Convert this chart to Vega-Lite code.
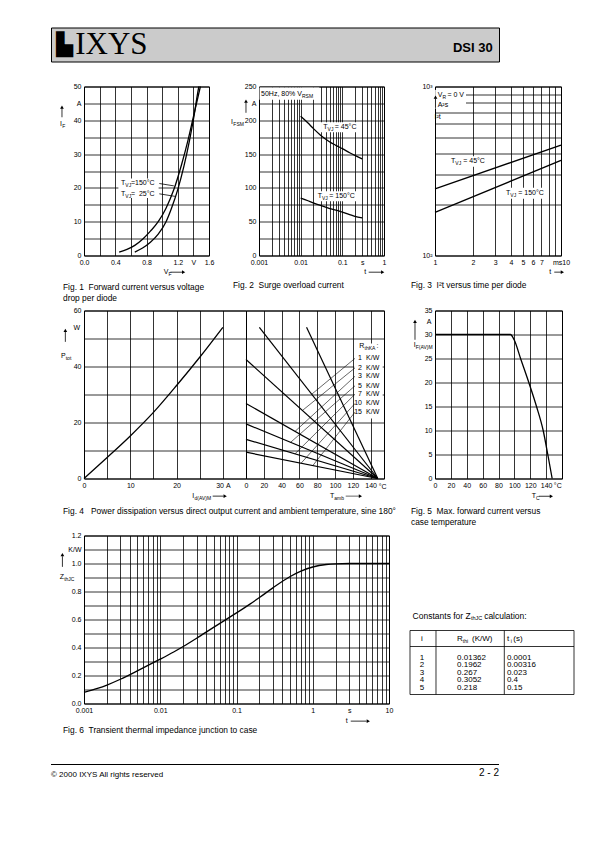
{
"$schema":"https://vega.github.io/schema/vega-lite/v6.json",
"padding":{"left":50,"top":26.5,"right":0,"bottom":0},
"spacing":0,
"config":{
 "view":{"stroke":null},
 "font":"Liberation Sans",
 "axis":{"grid":true,"gridColor":"black","gridOpacity":1,"gridWidth":0.8,"domain":false,"ticks":false,"labelFont":"Liberation Sans","labelFontSize":7,"labelColor":"black","labelPadding":3,"labelOverlap":false,"labelFlush":false,"labelBound":false},
 "title":{"font":"Liberation Sans","fontSize":8.4,"fontWeight":"normal","color":"black","anchor":"start","orient":"bottom","frame":"group","lineHeight":11,"baseline":"top"},
 "text":{"font":"Liberation Sans","color":"black"},
 "line":{"color":"black","strokeWidth":1.3},
 "rule":{"color":"black","strokeWidth":0.8},
 "point":{"color":"black","filled":true,"opacity":1,"size":14}
},
"vconcat":[
{"width":448,"height":34,"view":{"fill":"#cbcbcb","stroke":"black","strokeWidth":1},"data":{"values":[{}]},
 "layer":[
  {"mark":{"type":"text","text":"▙","font":"DejaVu Sans","fontSize":22,"align":"center","baseline":"middle"},"encoding":{"x":{"datum":0.03,"type":"quantitative","scale":{"domain":[0,1],"nice":false,"zero":false},"axis":null},"y":{"datum":0.5,"type":"quantitative","scale":{"domain":[0,1],"nice":false,"zero":false},"axis":null}}},
  {"mark":{"type":"text","text":"IXYS","font":"Liberation Serif","fontSize":31,"align":"left","baseline":"middle"},"encoding":{"x":{"datum":0.054,"type":"quantitative","scale":{"domain":[0,1],"nice":false,"zero":false},"axis":null},"y":{"datum":0.5,"type":"quantitative","scale":{"domain":[0,1],"nice":false,"zero":false},"axis":null}}},
  {"mark":{"type":"text","text":"DSI 30","fontSize":13,"fontWeight":"bold","align":"right","baseline":"middle"},"encoding":{"x":{"datum":0.986,"type":"quantitative","scale":{"domain":[0,1],"nice":false,"zero":false},"axis":null},"y":{"datum":0.41,"type":"quantitative","scale":{"domain":[0,1],"nice":false,"zero":false},"axis":null}}}
 ]},
{"width":1,"height":19,"data":{"values":[]},"mark":"point"},
{"spacing":0,"bounds":"flush","hconcat":[
{"width":33,"height":1,"data":{"values":[]},"mark":"point"},
{"width":125,"height":169,"view":{"stroke":"black","strokeWidth":1},
 "title":{"text":["Fig. 1\u00a0\u00a0Forward current versus voltage","\u00a0\u00a0\u00a0\u00a0\u00a0\u00a0\u00a0\u00a0\u00a0\u00a0\u00a0drop per diode"],"dx":-21,"offset":6},
 "data":{"values":[
  {"x":0.474,"y":21.5,"t":"T","k":"m"},{"x":0.529,"y":21.5,"t":"VJ","k":"s"},{"x":0.601,"y":21.5,"t":"=150°C","k":"m"},
  {"x":0.474,"y":18.25,"t":"T","k":"m"},{"x":0.529,"y":18.25,"t":"VJ","k":"s"},{"x":0.601,"y":18.25,"t":"=\u00a0\u00a025°C","k":"m"},
  {"x":-0.307,"y":38.8,"t":"I","k":"m"},{"x":-0.278,"y":38.8,"t":"F","k":"s"},
  {"x":1.02,"y":-4.94,"t":"V","k":"m"},{"x":1.083,"y":-4.94,"t":"F","k":"s"}]},
 "encoding":{
  "x":{"field":"x","type":"quantitative","scale":{"domain":[0,1.6],"nice":false,"zero":false},"axis":{"title":null,"values":[0,0.2,0.4,0.6,0.8,1,1.2,1.4,1.6],"labelExpr":"datum.value==1.4?'V':(round(datum.value*10)%4==0?format(datum.value,'.1f'):'')"}},
  "y":{"field":"y","type":"quantitative","scale":{"domain":[0,50],"nice":false,"zero":false},"axis":{"title":null,"values":[0,5,10,15,20,25,30,35,40,45,50],"labelExpr":"datum.value==45?'A':(datum.value%10==0?datum.label:'')"}}},
 "layer":[
  {"data":{"values":[{"x":0.44,"x2":0.955,"y":17.0,"y2":22.8}]},"mark":{"type":"rect","fill":"white"},"encoding":{"x2":{"field":"x2"},"y2":{"field":"y2"}}},
  {"data":{"values":[
   {"s":"150","x":0.45,"y":1},{"s":"150","x":0.55,"y":1.8},{"s":"150","x":0.65,"y":3.0},{"s":"150","x":0.75,"y":4.8},{"s":"150","x":0.85,"y":7.2},{"s":"150","x":0.95,"y":10},{"s":"150","x":1.05,"y":14},{"s":"150","x":1.15,"y":19.5},{"s":"150","x":1.25,"y":27},{"s":"150","x":1.33,"y":34},{"s":"150","x":1.4,"y":41},{"s":"150","x":1.45,"y":46},{"s":"150","x":1.49,"y":50},
   {"s":"25","x":0.65,"y":1},{"s":"25","x":0.75,"y":2.2},{"s":"25","x":0.85,"y":3.9},{"s":"25","x":0.95,"y":6.3},{"s":"25","x":1.05,"y":10},{"s":"25","x":1.12,"y":14},{"s":"25","x":1.2,"y":19.5},{"s":"25","x":1.28,"y":26.5},{"s":"25","x":1.35,"y":34},{"s":"25","x":1.41,"y":41.5},{"s":"25","x":1.44,"y":46},{"s":"25","x":1.47,"y":50}]},
   "mark":{"type":"line","interpolate":"monotone"},"encoding":{"detail":{"field":"s"}}},
  {"data":{"values":[{"x":0.964,"y":21.3,"x2":1.15,"y2":20.6},{"x":0.964,"y":18.25,"x2":1.165,"y2":17.5},{"x":-0.282,"y":40.9,"x2":-0.282,"y2":43.6},{"x":1.105,"y":-4.94,"x2":1.265,"y2":-4.94}]},"mark":"rule","encoding":{"x2":{"field":"x2"},"y2":{"field":"y2"}}},
  {"data":{"values":[{"x":-0.282,"y":43.9,"h":"up"},{"x":1.275,"y":-4.94,"h":"right"}]},"mark":"point","encoding":{"shape":{"field":"h","type":"nominal","scale":{"domain":["up","right"],"range":["triangle-up","triangle-right"]},"legend":null}}},
  {"transform":[{"filter":"datum.k=='m'"}],"mark":{"type":"text","align":"left","baseline":"middle","fontSize":7},"encoding":{"text":{"field":"t","type":"nominal"}}},
  {"transform":[{"filter":"datum.k=='s'"}],"mark":{"type":"text","align":"left","baseline":"middle","fontSize":5,"dy":2},"encoding":{"text":{"field":"t","type":"nominal"}}}
 ]},
{"width":50,"height":1,"data":{"values":[]},"mark":"point"},
{"width":125,"height":169,"view":{"stroke":"black","strokeWidth":1},
 "title":{"text":"Fig. 2\u00a0\u00a0Surge overload current","dx":-26,"offset":6},
 "data":{"values":[
  {"x":0.00112,"y":239.6,"t":"50Hz, 80% V","k":"m"},{"x":0.01076,"y":239.6,"t":"RSM","k":"s"},
  {"x":0.0349,"y":189.8,"t":"T","k":"m"},{"x":0.0443,"y":189.8,"t":"VJ","k":"s"},{"x":0.0659,"y":189.8,"t":"= 45°C","k":"m"},
  {"x":0.0256,"y":87.7,"t":"T","k":"m"},{"x":0.0325,"y":87.7,"t":"VJ","k":"s"},{"x":0.0484,"y":87.7,"t":"= 150°C","k":"m"},
  {"x":0.000213,"y":197.2,"t":"I","k":"m"},{"x":0.000242,"y":197.2,"t":"FSM","k":"s"},
  {"x":0.3365,"y":-24.7,"t":"t","k":"m"}]},
 "encoding":{
  "x":{"field":"x","type":"quantitative","scale":{"type":"log","domain":[0.001,1],"nice":false},"axis":{"title":null,"values":[0.001,0.002,0.003,0.004,0.005,0.006,0.007,0.008,0.009,0.01,0.02,0.03,0.04,0.05,0.06,0.07,0.08,0.09,0.1,0.2,0.3,0.4,0.5,0.6,0.7,0.8,0.9,1],"labelExpr":"datum.value==0.001?'0.001':datum.value==0.01?'0.01':datum.value==0.1?'0.1':datum.value==1?'1':datum.value==0.3?'s':''"}},
  "y":{"field":"y","type":"quantitative","scale":{"domain":[0,250],"nice":false,"zero":false},"axis":{"title":null,"values":[0,25,50,75,100,125,150,175,200,225,250],"labelExpr":"datum.value==225?'A':(datum.value%50==0?datum.label:'')"}}},
 "layer":[
  {"data":{"values":[{"x":0.00103,"x2":0.028,"y":230.3,"y2":248.5},{"x":0.0308,"x2":0.255,"y":182.4,"y2":197.2},{"x":0.0224,"x2":0.255,"y":80.3,"y2":95.1}]},"mark":{"type":"rect","fill":"white"},"encoding":{"x2":{"field":"x2"},"y2":{"field":"y2"}}},
  {"data":{"values":[
   {"s":"45","x":0.01,"y":206},{"s":"45","x":0.015,"y":196},{"s":"45","x":0.02,"y":188},{"s":"45","x":0.03,"y":178},{"s":"45","x":0.05,"y":168},{"s":"45","x":0.07,"y":163},{"s":"45","x":0.1,"y":158},{"s":"45","x":0.15,"y":152},{"s":"45","x":0.2,"y":148},{"s":"45","x":0.3,"y":143},
   {"s":"150","x":0.01,"y":85},{"s":"150","x":0.015,"y":81},{"s":"150","x":0.02,"y":78},{"s":"150","x":0.03,"y":74},{"s":"150","x":0.05,"y":69.5},{"s":"150","x":0.07,"y":67},{"s":"150","x":0.1,"y":64},{"s":"150","x":0.15,"y":60.5},{"s":"150","x":0.2,"y":58},{"s":"150","x":0.3,"y":55.5}]},
   "mark":{"type":"line","interpolate":"monotone"},"encoding":{"detail":{"field":"s"}}},
  {"data":{"values":[{"x":0.000487,"y":211.1,"x2":0.000487,"y2":226.5},{"x":0.4285,"y":-24.7,"x2":0.9,"y2":-24.7}]},"mark":"rule","encoding":{"x2":{"field":"x2"},"y2":{"field":"y2"}}},
  {"data":{"values":[{"x":0.000487,"y":228.3,"h":"up"},{"x":0.93,"y":-24.7,"h":"right"}]},"mark":"point","encoding":{"shape":{"field":"h","type":"nominal","scale":{"domain":["up","right"],"range":["triangle-up","triangle-right"]},"legend":null}}},
  {"transform":[{"filter":"datum.k=='m'"}],"mark":{"type":"text","align":"left","baseline":"middle","fontSize":7},"encoding":{"text":{"field":"t","type":"nominal"}}},
  {"transform":[{"filter":"datum.k=='s'"}],"mark":{"type":"text","align":"left","baseline":"middle","fontSize":5,"dy":2},"encoding":{"text":{"field":"t","type":"nominal"}}}
 ]},
{"width":51,"height":1,"data":{"values":[]},"mark":"point"},
{"width":126,"height":169,"view":{"stroke":"black","strokeWidth":1},
 "title":{"text":"Fig. 3\u00a0\u00a0I²t versus time per diode","dx":-24,"offset":6},
 "data":{"values":[
  {"x":1.05,"y":888,"t":"V","k":"m"},{"x":1.145,"y":888,"t":"R","k":"s"},{"x":1.256,"y":888,"t":"= 0 V","k":"m"},
  {"x":1.05,"y":782,"t":"A²s","k":"m"},
  {"x":0.99,"y":656,"t":"I²t","k":"m"},
  {"x":1.34,"y":361,"t":"T","k":"m"},{"x":1.449,"y":361,"t":"VJ","k":"s"},{"x":1.675,"y":361,"t":"= 45°C","k":"m"},
  {"x":3.66,"y":235,"t":"T","k":"m"},{"x":3.96,"y":235,"t":"VJ","k":"s"},{"x":4.58,"y":235,"t":"= 150°C","k":"m"},
  {"x":8.08,"y":79.7,"t":"t","k":"m"}]},
 "encoding":{
  "x":{"field":"x","type":"quantitative","scale":{"type":"log","domain":[1,10],"nice":false},"axis":{"title":null,"values":[1,2,3,4,5,6,7,8,9,10],"labelExpr":"datum.value==10?'ms10':(datum.value<=7?datum.label:'')"}},
  "y":{"field":"y","type":"quantitative","scale":{"type":"log","domain":[100,1000],"nice":false},"axis":{"title":null,"values":[100,200,300,400,500,600,700,800,900,1000],"labelExpr":"datum.value==1000?'10³':(datum.value==100?'10²':'')"}}},
 "layer":[
  {"data":{"values":[{"x":1.004,"x2":1.763,"y":741,"y2":955},{"x":1.299,"x2":2.959,"y":335,"y2":387},{"x":3.484,"x2":7.93,"y":217,"y2":251.6}]},"mark":{"type":"rect","fill":"white"},"encoding":{"x2":{"field":"x2"},"y2":{"field":"y2"}}},
  {"data":{"values":[{"s":"45","x":1,"y":248},{"s":"45","x":10,"y":450},{"s":"150","x":1,"y":180},{"s":"150","x":10,"y":365}]},"mark":{"type":"line"},"encoding":{"detail":{"field":"s"}}},
  {"data":{"values":[{"x":1.009,"y":748,"x2":1.009,"y2":850},{"x":8.84,"y":79.7,"x2":10.1,"y2":79.7}]},"mark":"rule","encoding":{"x2":{"field":"x2"},"y2":{"field":"y2"}}},
  {"data":{"values":[{"x":1.009,"y":866,"h":"up"},{"x":10.25,"y":79.7,"h":"right"}]},"mark":"point","encoding":{"shape":{"field":"h","type":"nominal","scale":{"domain":["up","right"],"range":["triangle-up","triangle-right"]},"legend":null}}},
  {"transform":[{"filter":"datum.k=='m'"}],"mark":{"type":"text","align":"left","baseline":"middle","fontSize":7},"encoding":{"text":{"field":"t","type":"nominal"}}},
  {"transform":[{"filter":"datum.k=='s'"}],"mark":{"type":"text","align":"left","baseline":"middle","fontSize":5,"dy":2},"encoding":{"text":{"field":"t","type":"nominal"}}}
 ]}
]},
{"width":1,"height":1.1,"data":{"values":[]},"mark":"point"},
{"spacing":0,"bounds":"flush","hconcat":[
{"width":33,"height":1,"data":{"values":[]},"mark":"point"},
{"width":162,"height":168,"view":{"stroke":"black","strokeWidth":1},
 "title":{"text":"Fig. 4\u00a0\u00a0\u00a0Power dissipation versus direct output current and ambient temperature, sine 180°","dx":-21,"offset":6},
 "data":{"values":[
  {"x":-1.55,"y":53.9,"t":"W","k":"c"},
  {"x":-4.97,"y":43.8,"t":"P","k":"m"},{"x":-3.95,"y":43.8,"t":"tot","k":"s"},
  {"x":23.4,"y":-6.3,"t":"I","k":"m"},{"x":23.89,"y":-6.3,"t":"d(AV)M","k":"s"}]},
 "encoding":{
  "x":{"field":"x","type":"quantitative","scale":{"domain":[0,35],"nice":false,"zero":false},"axis":{"title":null,"values":[0,5,10,15,20,25,30,35],"labelExpr":"datum.value==30?'30\u00a0A':(datum.value%10==0?datum.label:'')"}},
  "y":{"field":"y","type":"quantitative","scale":{"domain":[0,60],"nice":false,"zero":false},"axis":{"title":null,"values":[0,10,20,30,40,50,60],"labelExpr":"datum.value%20==0?datum.label:''"}}},
 "layer":[
  {"data":{"values":[{"s":"p","x":0,"y":0},{"s":"p","x":5,"y":7.5},{"s":"p","x":10,"y":15.2},{"s":"p","x":15,"y":23.6},{"s":"p","x":20,"y":33.2},{"s":"p","x":25,"y":43.3},{"s":"p","x":30,"y":54}]},"mark":{"type":"line","interpolate":"monotone"},"encoding":{"detail":{"field":"s"}}},
  {"data":{"values":[{"x":-4.03,"y":48.8,"x2":-4.03,"y2":52.4},{"x":27.8,"y":-6.3,"x2":30.2,"y2":-6.3}]},"mark":"rule","encoding":{"x2":{"field":"x2"},"y2":{"field":"y2"}}},
  {"data":{"values":[{"x":-4.03,"y":52.9,"h":"up"},{"x":30.5,"y":-6.3,"h":"right"}]},"mark":"point","encoding":{"shape":{"field":"h","type":"nominal","scale":{"domain":["up","right"],"range":["triangle-up","triangle-right"]},"legend":null}}},
  {"transform":[{"filter":"datum.k=='m'"}],"mark":{"type":"text","align":"left","baseline":"middle","fontSize":7},"encoding":{"text":{"field":"t","type":"nominal"}}},
  {"transform":[{"filter":"datum.k=='s'"}],"mark":{"type":"text","align":"left","baseline":"middle","fontSize":5,"dy":2},"encoding":{"text":{"field":"t","type":"nominal"}}},
  {"transform":[{"filter":"datum.k=='c'"}],"mark":{"type":"text","align":"center","baseline":"middle","fontSize":7},"encoding":{"text":{"field":"t","type":"nominal"}}}
 ]},
{"width":138,"height":168,"view":{"stroke":"black","strokeWidth":1},
 "data":{"values":[
  {"x":127.3,"y":47.25,"t":"R","k":"m"},{"x":133.2,"y":47.25,"t":"thKA","k":"s"},{"x":146.6,"y":47.25,"t":":","k":"m"},
  {"x":130.3,"y":42.9,"t":"1","k":"r"},{"x":134.8,"y":42.9,"t":"K/W","k":"m"},
  {"x":130.3,"y":39.5,"t":"2","k":"r"},{"x":134.8,"y":39.5,"t":"K/W","k":"m"},
  {"x":130.3,"y":36.5,"t":"3","k":"r"},{"x":134.8,"y":36.5,"t":"K/W","k":"m"},
  {"x":130.3,"y":33.1,"t":"5","k":"r"},{"x":134.8,"y":33.1,"t":"K/W","k":"m"},
  {"x":130.3,"y":30.1,"t":"7","k":"r"},{"x":134.8,"y":30.1,"t":"K/W","k":"m"},
  {"x":130.3,"y":26.8,"t":"10","k":"r"},{"x":134.8,"y":26.8,"t":"K/W","k":"m"},
  {"x":130.3,"y":23.7,"t":"15","k":"r"},{"x":134.8,"y":23.7,"t":"K/W","k":"m"},
  {"x":153.5,"y":-2.9,"t":"°C","k":"c"},
  {"x":94.35,"y":-6.3,"t":"T","k":"m"},{"x":99.2,"y":-6.3,"t":"amb","k":"s"}]},
 "encoding":{
  "x":{"field":"x","type":"quantitative","scale":{"domain":[0,155],"nice":false,"zero":false},"axis":{"title":null,"values":[0,20,40,60,80,100,120,140]}},
  "y":{"field":"y","type":"quantitative","scale":{"domain":[0,60],"nice":false,"zero":false},"axis":{"title":null,"values":[0,10,20,30,40,50,60],"labels":false}}},
 "layer":[
  {"data":{"values":[{"x":121.5,"x2":153.5,"y":21.4,"y2":48.2}]},"mark":{"type":"rect","fill":"white"},"encoding":{"x2":{"field":"x2"},"y2":{"field":"y2"}}},
  {"data":{"values":[
   {"s":"1","x":68,"y":54},{"s":"1","x":148,"y":0},
   {"s":"2","x":15,"y":54},{"s":"2","x":148,"y":0},
   {"s":"3","x":0,"y":42.5},{"s":"3","x":148,"y":0},
   {"s":"5","x":0,"y":26.8},{"s":"5","x":148,"y":0},
   {"s":"7","x":0,"y":19.5},{"s":"7","x":148,"y":0},
   {"s":"10","x":0,"y":14},{"s":"10","x":148,"y":0},
   {"s":"15","x":0,"y":9.4},{"s":"15","x":148,"y":0}]},
   "mark":{"type":"line","strokeWidth":1.2},"encoding":{"detail":{"field":"s"}}},
  {"data":{"values":[
   {"x":122.4,"y":42.9,"x2":73.8,"y2":30.1},{"x":122.4,"y":39.5,"x2":63.4,"y2":24.3},{"x":122.4,"y":36.5,"x2":55,"y2":16.8},{"x":122.4,"y":33.1,"x2":50,"y2":12.9},{"x":122.4,"y":30.1,"x2":55,"y2":8.8},{"x":122.4,"y":26.8,"x2":62,"y2":5.5},{"x":122.4,"y":23.7,"x2":75,"y2":4.6},
   {"x":112,"y":-6.3,"x2":127.5,"y2":-6.3}]},"mark":{"type":"rule","strokeWidth":0.6},"encoding":{"x2":{"field":"x2"},"y2":{"field":"y2"}}},
  {"data":{"values":[{"x":128.5,"y":-6.3,"h":"right"}]},"mark":"point","encoding":{"shape":{"field":"h","type":"nominal","scale":{"domain":["up","right"],"range":["triangle-up","triangle-right"]},"legend":null}}},
  {"transform":[{"filter":"datum.k=='m'"}],"mark":{"type":"text","align":"left","baseline":"middle","fontSize":7},"encoding":{"text":{"field":"t","type":"nominal"}}},
  {"transform":[{"filter":"datum.k=='s'"}],"mark":{"type":"text","align":"left","baseline":"middle","fontSize":5,"dy":2},"encoding":{"text":{"field":"t","type":"nominal"}}},
  {"transform":[{"filter":"datum.k=='c'"}],"mark":{"type":"text","align":"center","baseline":"middle","fontSize":7},"encoding":{"text":{"field":"t","type":"nominal"}}},
  {"transform":[{"filter":"datum.k=='r'"}],"mark":{"type":"text","align":"right","baseline":"middle","fontSize":7},"encoding":{"text":{"field":"t","type":"nominal"}}}
 ]},
{"width":51,"height":1,"data":{"values":[]},"mark":"point"},
{"width":127,"height":168,"view":{"stroke":"black","strokeWidth":1},
 "title":{"text":["Fig. 5\u00a0\u00a0Max. forward current versus","\u00a0\u00a0\u00a0\u00a0\u00a0\u00a0\u00a0\u00a0\u00a0\u00a0\u00a0case temperature"],"dx":-24,"offset":6},
 "data":{"values":[
  {"x":-7.6,"y":32.7,"t":"A","k":"c"},
  {"x":-26.8,"y":27.8,"t":"I","k":"m"},{"x":-24.2,"y":27.8,"t":"F(AV)M","k":"s"},
  {"x":121.8,"y":-3.7,"t":"T","k":"m"},{"x":127.3,"y":-3.7,"t":"C","k":"s"},
  {"x":154.7,"y":-1.5,"t":"°C","k":"c"}]},
 "encoding":{
  "x":{"field":"x","type":"quantitative","scale":{"domain":[0,160],"nice":false,"zero":false},"axis":{"title":null,"values":[0,20,40,60,80,100,120,140,160],"labelExpr":"datum.value<160?datum.label:''"}},
  "y":{"field":"y","type":"quantitative","scale":{"domain":[0,35],"nice":false,"zero":false},"axis":{"title":null,"values":[0,5,10,15,20,25,30,35]}}},
 "layer":[
  {"data":{"values":[{"s":"f","x":0,"y":30},{"s":"f","x":95,"y":30},{"s":"f","x":100,"y":28.8},{"s":"f","x":107.8,"y":25},{"s":"f","x":118.2,"y":20},{"s":"f","x":127.9,"y":15},{"s":"f","x":136.3,"y":10},{"s":"f","x":142.1,"y":5},{"s":"f","x":147.6,"y":0}]},"mark":{"type":"line","interpolate":"monotone"},"encoding":{"detail":{"field":"s"}}},
  {"data":{"values":[{"x":-25.2,"y":28.9,"x2":-25.2,"y2":32.4},{"x":130.8,"y":-3.7,"x2":145.5,"y2":-3.7}]},"mark":"rule","encoding":{"x2":{"field":"x2"},"y2":{"field":"y2"}}},
  {"data":{"values":[{"x":-25.2,"y":32.75,"h":"up"},{"x":146.6,"y":-3.7,"h":"right"}]},"mark":"point","encoding":{"shape":{"field":"h","type":"nominal","scale":{"domain":["up","right"],"range":["triangle-up","triangle-right"]},"legend":null}}},
  {"transform":[{"filter":"datum.k=='m'"}],"mark":{"type":"text","align":"left","baseline":"middle","fontSize":7},"encoding":{"text":{"field":"t","type":"nominal"}}},
  {"transform":[{"filter":"datum.k=='s'"}],"mark":{"type":"text","align":"left","baseline":"middle","fontSize":5,"dy":2},"encoding":{"text":{"field":"t","type":"nominal"}}},
  {"transform":[{"filter":"datum.k=='c'"}],"mark":{"type":"text","align":"center","baseline":"middle","fontSize":7},"encoding":{"text":{"field":"t","type":"nominal"}}}
 ]}
]},
{"width":1,"height":2.8,"data":{"values":[]},"mark":"point"},
{"spacing":0,"bounds":"flush","hconcat":[
{"width":33,"height":1,"data":{"values":[]},"mark":"point"},
{"width":305,"height":168,"view":{"stroke":"black","strokeWidth":1},
 "title":{"text":"Fig. 6\u00a0\u00a0Transient thermal impedance junction to case","dx":-21,"offset":2},
 "data":{"values":[
  {"x":0.00048,"y":0.905,"t":"Z","k":"m"},{"x":0.00055,"y":0.905,"t":"thJC","k":"s"},
  {"x":2.7,"y":-0.126,"t":"t","k":"m"}]},
 "encoding":{
  "x":{"field":"x","type":"quantitative","scale":{"type":"log","domain":[0.001,10],"nice":false},"axis":{"title":null,"values":[0.001,0.002,0.003,0.004,0.005,0.006,0.007,0.008,0.009,0.01,0.02,0.03,0.04,0.05,0.06,0.07,0.08,0.09,0.1,0.2,0.3,0.4,0.5,0.6,0.7,0.8,0.9,1,2,3,4,5,6,7,8,9,10],"labelExpr":"datum.value==0.001?'0.001':datum.value==0.01?'0.01':datum.value==0.1?'0.1':datum.value==1?'1':datum.value==3?'s':datum.value==10?'10':''"}},
  "y":{"field":"y","type":"quantitative","scale":{"domain":[0,1.2],"nice":false,"zero":false},"axis":{"title":null,"values":[0,0.1,0.2,0.3,0.4,0.5,0.6,0.7,0.8,0.9,1,1.1,1.2],"labelExpr":"datum.value==1.1?'K/W':(round(datum.value*10)%2==0?format(datum.value,'.1f'):'')"}}},
 "layer":[
  {"data":{"values":[
   {"s":"z","x":0.001,"y":0.080},{"s":"z","x":0.0015,"y":0.108},{"s":"z","x":0.002,"y":0.132},{"s":"z","x":0.003,"y":0.173},{"s":"z","x":0.005,"y":0.233},{"s":"z","x":0.007,"y":0.274},{"s":"z","x":0.01,"y":0.317},{"s":"z","x":0.015,"y":0.368},{"s":"z","x":0.02,"y":0.407},{"s":"z","x":0.03,"y":0.466},{"s":"z","x":0.05,"y":0.544},{"s":"z","x":0.07,"y":0.594},{"s":"z","x":0.1,"y":0.647},{"s":"z","x":0.15,"y":0.710},{"s":"z","x":0.2,"y":0.757},{"s":"z","x":0.3,"y":0.826},{"s":"z","x":0.5,"y":0.905},{"s":"z","x":0.7,"y":0.945},{"s":"z","x":1,"y":0.975},{"s":"z","x":1.5,"y":0.993},{"s":"z","x":2,"y":0.998},{"s":"z","x":3,"y":1.0},{"s":"z","x":5,"y":1.0},{"s":"z","x":10,"y":1.0}]},
   "mark":{"type":"line","interpolate":"monotone"},"encoding":{"detail":{"field":"s"}}},
  {"data":{"values":[{"x":0.000521,"y":0.976,"x2":0.000521,"y2":1.052},{"x":3.15,"y":-0.126,"x2":5.1,"y2":-0.126}]},"mark":"rule","encoding":{"x2":{"field":"x2"},"y2":{"field":"y2"}}},
  {"data":{"values":[{"x":0.000521,"y":1.063,"h":"up"},{"x":5.35,"y":-0.126,"h":"right"}]},"mark":"point","encoding":{"shape":{"field":"h","type":"nominal","scale":{"domain":["up","right"],"range":["triangle-up","triangle-right"]},"legend":null}}},
  {"transform":[{"filter":"datum.k=='m'"}],"mark":{"type":"text","align":"left","baseline":"middle","fontSize":7},"encoding":{"text":{"field":"t","type":"nominal"}}},
  {"transform":[{"filter":"datum.k=='s'"}],"mark":{"type":"text","align":"left","baseline":"middle","fontSize":5,"dy":2},"encoding":{"text":{"field":"t","type":"nominal"}}}
 ]},
{"width":21,"height":1,"data":{"values":[]},"mark":"point"},
{"width":164,"height":168,
 "data":{"values":[{"i":1,"R":0.01362,"tau":0.0001},{"i":2,"R":0.1962,"tau":0.00316},{"i":3,"R":0.267,"tau":0.023},{"i":4,"R":0.3052,"tau":0.4},{"i":5,"R":0.218,"tau":0.15}]},
 "layer":[
  {"data":{"values":[{}]},"mark":{"type":"rect","fillOpacity":0,"stroke":"black","strokeWidth":0.8},"encoding":{"x":{"datum":0,"type":"quantitative","scale":{"domain":[0,1],"nice":false,"zero":false},"axis":null},"x2":{"datum":1},"y":{"datum":-2.6,"type":"quantitative","scale":{"domain":[-15.267,7.133],"reverse":true,"nice":false,"zero":false},"axis":null},"y2":{"datum":5.933}}},
  {"data":{"values":[{}]},"mark":{"type":"rule","strokeWidth":0.8},"encoding":{"x":{"datum":0.1585,"type":"quantitative","scale":{"domain":[0,1],"nice":false,"zero":false},"axis":null},"y":{"datum":-2.6,"type":"quantitative","scale":{"domain":[-15.267,7.133],"reverse":true,"nice":false,"zero":false},"axis":null},"y2":{"datum":5.933}}},
  {"data":{"values":[{}]},"mark":{"type":"rule","strokeWidth":0.8},"encoding":{"x":{"datum":0.575,"type":"quantitative","scale":{"domain":[0,1],"nice":false,"zero":false},"axis":null},"y":{"datum":-2.6,"type":"quantitative","scale":{"domain":[-15.267,7.133],"reverse":true,"nice":false,"zero":false},"axis":null},"y2":{"datum":5.933}}},
  {"data":{"values":[{}]},"mark":{"type":"rule","strokeWidth":0.8},"encoding":{"x":{"datum":0,"type":"quantitative","scale":{"domain":[0,1],"nice":false,"zero":false},"axis":null},"x2":{"datum":1},"y":{"datum":-0.467,"type":"quantitative","scale":{"domain":[-15.267,7.133],"reverse":true,"nice":false,"zero":false},"axis":null}}},
  {"data":{"values":[{"x":0.016,"y":-4.6,"t":"Constants for Z","k":"M"},{"x":0.372,"y":-4.6,"t":"thJC","k":"S"},{"x":0.452,"y":-4.6,"t":"calculation:","k":"M"},
    {"x":0.073,"y":-1.533,"t":"i","k":"c"},{"x":0.287,"y":-1.533,"t":"R","k":"m"},{"x":0.322,"y":-1.533,"t":"thi","k":"s"},{"x":0.378,"y":-1.533,"t":"(K/W)","k":"m"},
    {"x":0.591,"y":-1.533,"t":"t","k":"m"},{"x":0.6146,"y":-1.533,"t":"i","k":"s"},{"x":0.63,"y":-1.533,"t":"(s)","k":"m"}]},
   "encoding":{"x":{"field":"x","type":"quantitative","scale":{"domain":[0,1],"nice":false,"zero":false},"axis":null},"y":{"field":"y","type":"quantitative","scale":{"domain":[-15.267,7.133],"reverse":true,"nice":false,"zero":false},"axis":null},"text":{"field":"t","type":"nominal"}},
   "layer":[
    {"transform":[{"filter":"datum.k=='M'"}],"mark":{"type":"text","align":"left","baseline":"middle","fontSize":8.5}},
    {"transform":[{"filter":"datum.k=='S'"}],"mark":{"type":"text","align":"left","baseline":"middle","fontSize":5.5,"dy":2}},
    {"transform":[{"filter":"datum.k=='m'"}],"mark":{"type":"text","align":"left","baseline":"middle","fontSize":8}},
    {"transform":[{"filter":"datum.k=='s'"}],"mark":{"type":"text","align":"left","baseline":"middle","fontSize":5,"dy":2}},
    {"transform":[{"filter":"datum.k=='c'"}],"mark":{"type":"text","align":"center","baseline":"middle","fontSize":8}}
   ]},
  {"mark":{"type":"text","align":"center","baseline":"middle","fontSize":8},"encoding":{"x":{"datum":0.073,"type":"quantitative","scale":{"domain":[0,1],"nice":false,"zero":false},"axis":null},"y":{"field":"i","type":"quantitative","scale":{"domain":[-15.267,7.133],"reverse":true,"nice":false,"zero":false},"axis":null},"text":{"field":"i","type":"nominal"}}},
  {"mark":{"type":"text","align":"left","baseline":"middle","fontSize":8},"encoding":{"x":{"datum":0.287,"type":"quantitative","scale":{"domain":[0,1],"nice":false,"zero":false},"axis":null},"y":{"field":"i","type":"quantitative","scale":{"domain":[-15.267,7.133],"reverse":true,"nice":false,"zero":false},"axis":null},"text":{"field":"R","type":"quantitative","format":"~g"}}},
  {"mark":{"type":"text","align":"left","baseline":"middle","fontSize":8},"encoding":{"x":{"datum":0.591,"type":"quantitative","scale":{"domain":[0,1],"nice":false,"zero":false},"axis":null},"y":{"field":"i","type":"quantitative","scale":{"domain":[-15.267,7.133],"reverse":true,"nice":false,"zero":false},"axis":null},"text":{"field":"tau","type":"quantitative","format":"~g"}}}
 ]}
]},
{"width":1,"height":27.9,"data":{"values":[]},"mark":"point"},
{"width":448,"height":20,"data":{"values":[{}]},
 "layer":[
  {"mark":{"type":"rule","strokeWidth":1},"encoding":{"x":{"datum":0,"type":"quantitative","scale":{"domain":[0,1],"nice":false,"zero":false},"axis":null},"x2":{"datum":1},"y":{"datum":1,"type":"quantitative","scale":{"domain":[0,1],"nice":false,"zero":false},"axis":null}}},
  {"mark":{"type":"text","text":"© 2000 IXYS All rights reserved","fontSize":8,"align":"left","baseline":"middle"},"encoding":{"x":{"datum":0,"type":"quantitative","scale":{"domain":[0,1],"nice":false,"zero":false},"axis":null},"y":{"datum":0.465,"type":"quantitative","scale":{"domain":[0,1],"nice":false,"zero":false},"axis":null}}},
  {"mark":{"type":"text","text":"2 - 2","fontSize":10,"align":"right","baseline":"middle"},"encoding":{"x":{"datum":1,"type":"quantitative","scale":{"domain":[0,1],"nice":false,"zero":false},"axis":null},"y":{"datum":0.6,"type":"quantitative","scale":{"domain":[0,1],"nice":false,"zero":false},"axis":null}}}
 ]}
]
}
